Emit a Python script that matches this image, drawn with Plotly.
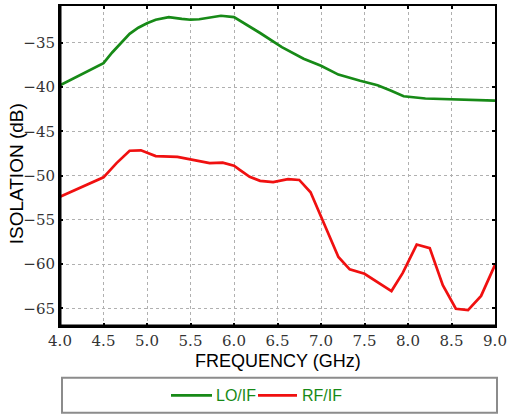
import plotly.graph_objects as go

lo_freq = [4.0, 4.5, 4.6, 4.7, 4.8, 4.9, 5.0, 5.1, 5.25, 5.4, 5.5, 5.6, 5.7, 5.85, 6.0,
           6.15, 6.3, 6.55, 6.8, 7.0, 7.2, 7.45, 7.65, 7.8, 7.95, 8.2, 8.5, 8.7, 9.0]
lo_iso = [-39.8, -37.3, -36.1, -35.0, -34.0, -33.3, -32.8, -32.4, -32.1, -32.3, -32.4, -32.35,
          -32.2, -31.95, -32.1, -33.0, -33.9, -35.5, -36.8, -37.6, -38.6, -39.3, -39.8, -40.4,
          -41.05, -41.3, -41.4, -41.4, -41.55]

rf_freq = [4.0, 4.5, 4.65, 4.8, 4.93, 5.1, 5.35, 5.5, 5.6, 5.72, 5.87, 6.0, 6.07, 6.18, 6.3,
           6.45, 6.62, 6.75, 6.88, 7.0, 7.2, 7.33, 7.5, 7.81, 7.94, 8.1, 8.25, 8.4, 8.55, 8.69,
           8.84, 9.0]
rf_iso = [-52.4, -50.2, -48.6, -47.2, -47.15, -47.8, -47.9, -48.2, -48.4, -48.6, -48.55, -48.9,
          -49.4, -50.15, -50.6, -50.75, -50.4, -50.5, -51.9, -54.6, -59.2, -60.6, -61.1, -63.05,
          -61.0, -57.8, -58.2, -62.4, -65.05, -65.2, -63.6, -60.1]

x_ticks = [4.0, 4.5, 5.0, 5.5, 6.0, 6.5, 7.0, 7.5, 8.0, 8.5, 9.0]
x_ticktext = ["4.0", "4.5", "5.0", "5.5", "6.0", "6.5", "7.0", "7.5", "8.0", "8.5", "9.0"]
y_ticks = [-35, -40, -45, -50, -55, -60, -65]
y_ticktext = ["\u221235", "\u221240", "\u221245", "\u221250", "\u221255", "\u221260", "\u221265"]
series_names = ["LO/IF", "RF/IF"]

GREEN = "#178a17"
RED = "#f01010"

fig = go.Figure()
fig.add_trace(go.Scatter(x=lo_freq, y=lo_iso, mode="lines", name=series_names[0],
                         line=dict(color=GREEN, width=2.7), showlegend=False))
fig.add_trace(go.Scatter(x=rf_freq, y=rf_iso, mode="lines", name=series_names[1],
                         line=dict(color=RED, width=2.7), showlegend=False))

tickfont = dict(family="DejaVu Serif", size=15, color="#333333")

# legend drawn by hand in paper coordinates (long sample lines, green labels)
def px_x(p):
    return (p - 60) / 435.0

def px_y(p):
    return (325.7 - p) / 320.0

leg_y = px_y(395)
shapes = [
    dict(type="line", xref="paper", yref="paper", x0=0, x1=0, y0=0, y1=1,
         line=dict(color="black", width=3)),
    dict(type="line", xref="paper", yref="paper", x0=0, x1=1, y0=0, y1=0,
         line=dict(color="black", width=3)),
    dict(type="rect", xref="paper", yref="paper", x0=px_x(62), x1=px_x(497),
         y0=px_y(412.5), y1=px_y(377.5), line=dict(color="#8c8c8c", width=2)),
    dict(type="line", xref="paper", yref="paper", x0=px_x(171), x1=px_x(212),
         y0=leg_y, y1=leg_y, line=dict(color=GREEN, width=2.7)),
    dict(type="line", xref="paper", yref="paper", x0=px_x(258), x1=px_x(297),
         y0=leg_y, y1=leg_y, line=dict(color=RED, width=2.7)),
]
legfont = dict(family="Liberation Sans", size=16, color=GREEN)
annotations = [
    dict(text=series_names[0], xref="paper", yref="paper", x=px_x(213.5), y=leg_y,
         xanchor="left", yanchor="middle", showarrow=False, font=legfont),
    dict(text=series_names[1], xref="paper", yref="paper", x=px_x(300), y=leg_y,
         xanchor="left", yanchor="middle", showarrow=False, font=legfont),
    dict(text="ISOLATION (dB)", xref="paper", yref="paper", x=px_x(16), y=px_y(174),
         xanchor="center", yanchor="middle", textangle=-90, showarrow=False,
         font=dict(family="Liberation Sans", size=19, color="black")),
    dict(text="FREQUENCY (GHz)", xref="paper", yref="paper", x=px_x(278), y=px_y(361),
         xanchor="center", yanchor="middle", showarrow=False,
         font=dict(family="Liberation Sans", size=18, color="black")),
]

fig.update_layout(
    width=511, height=415,
    margin=dict(l=60, r=16, t=6, b=89),
    paper_bgcolor="white", plot_bgcolor="white",
    showlegend=False,
    xaxis=dict(range=[4.0, 9.0], tickvals=x_ticks, ticktext=x_ticktext, automargin=False,
               tickfont=tickfont, showgrid=True, gridcolor="#b0b0b0", griddash="dot",
               gridwidth=1, zeroline=False, showline=True, linecolor="black",
               linewidth=2, mirror="ticks", ticks="inside", ticklen=3, tickwidth=1.5,
               tickcolor="black"),
    yaxis=dict(range=[-67, -30.85], tickvals=y_ticks, ticktext=y_ticktext, automargin=False,
               tickfont=tickfont, showgrid=True, gridcolor="#b0b0b0", griddash="dot",
               gridwidth=1, zeroline=False, showline=True, linecolor="black",
               linewidth=2, mirror="ticks", ticks="inside", ticklen=3, tickwidth=1.5,
               tickcolor="black"),
    shapes=shapes,
    annotations=annotations,
)

fig.write_html("out.html")
